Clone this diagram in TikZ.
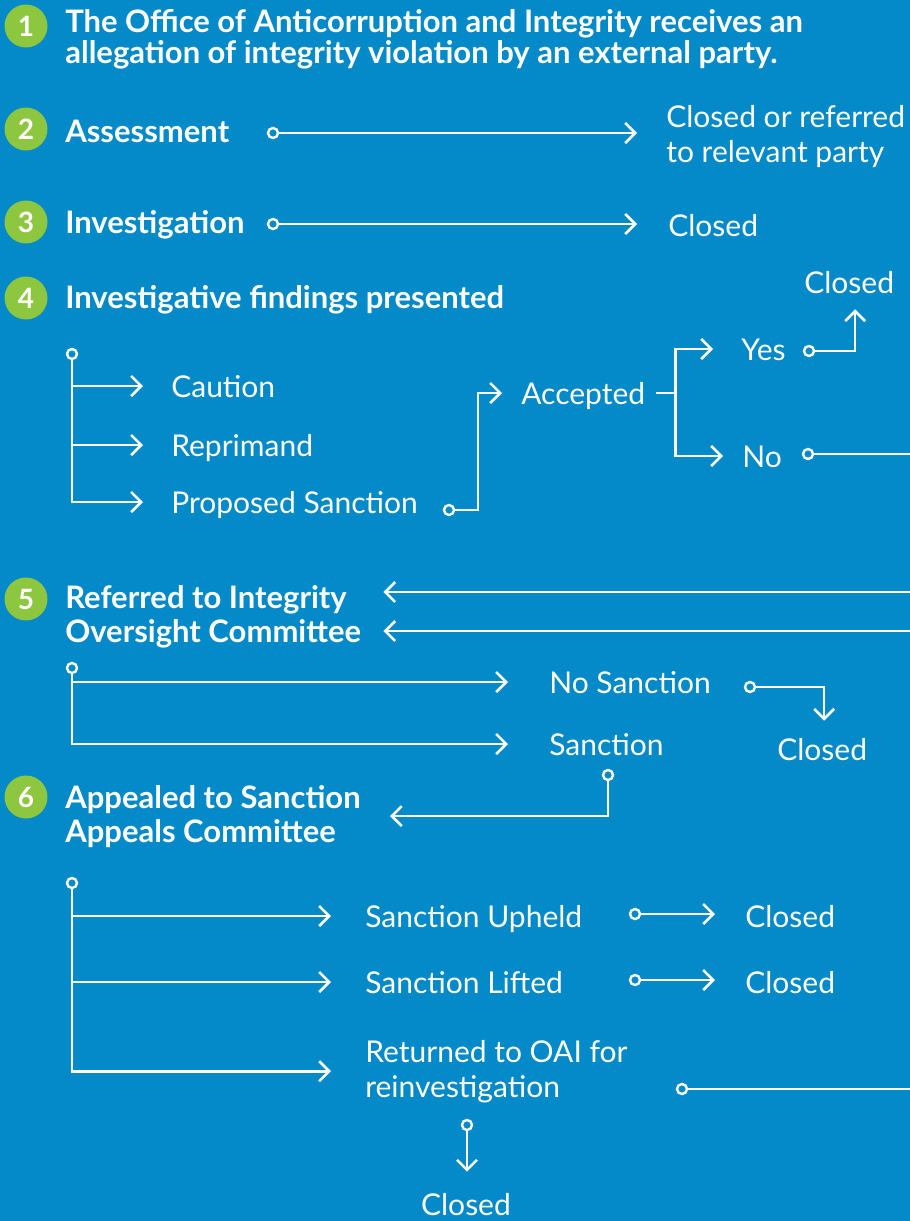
\documentclass[tikz,border=0pt]{standalone}
\usepackage{fontspec}
\setmainfont{Lato}
\usetikzlibrary{arrows.meta, calc}
\definecolor{oaiblue}{HTML}{0489C9}
\definecolor{oaigreen}{HTML}{8DC63F}
\tikzset{
  num/.style = {circle, fill=oaigreen, minimum size=43pt, inner sep=0pt, text=white,
    font=\fontsize{28}{28}\selectfont\bfseries},
  head/.style = {anchor=base west, inner sep=0pt, align=left, text=white,
    font=\fontsize{31}{34}\selectfont\bfseries},
  item/.style = {anchor=base west, inner sep=0pt, text=white,
    font=\fontsize{30}{35}\selectfont},
  lbl/.style = {item, text height=22pt, text depth=0pt},
  lbltwo/.style = {item, align=left},
  dot/.style = {circle, draw=white, fill=oaiblue, line width=2.4pt, minimum size=10pt, inner sep=0pt},
  arr/.style = {-{Straight Barb[length=10pt, width=20pt]}},
}

\begin{document}
\begin{tikzpicture}[x=1pt, y=-1pt, line width=2.6pt, white]
\fill[oaiblue] (0,0) rectangle (910,1221);
\useasboundingbox (0,0) rectangle (910,1221);
\coordinate (rim) at (910,0);

% numbered steps (multi-line texts sit on their last baseline)
\foreach \n/\y in {1/26, 2/129, 3/222, 4/298, 5/599, 6/797}
  \node[num] (n\n) at (26,\y) {\n};

\node[head, font=\fontsize{31}{31}\selectfont\bfseries] (h1) at (64,63)
  {The Office of Anticorruption and Integrity receives an\\allegation of integrity violation by an external party.};
\node[head] (h2) at (64,142) {Assessment};
\node[head] (h3) at (64,233) {Investigation};
\node[head] (h4) at (64,308) {Investigative findings presented};
\node[head] (h5) at (64,642) {Referred to Integrity\\Oversight Committee};
\node[head] (h6) at (64,842) {Appealed to Sanction\\Appeals Committee};

% steps 2 and 3
\node[lbltwo] (clref) at (665,162) {Closed or referred\\to relevant party};
\node[lbl] (cl3) at (667,236) {Closed};
\node[dot] (d2) at (273,133) {};
\node[dot] (d3) at (273,224) {};
\draw[arr, shorten >=30pt] (d2) -- (d2 -| cl3.west);
\draw[arr, shorten >=30pt] (d3) -- (d3 -| cl3.west);

% step 4
\node[lbl] (caution) at (170,397) {Caution};
\node[lbl] (reprim) at (170,456) {Reprimand};
\node[lbl] (propsan) at (170,513) {Proposed Sanction};
\node[dot] (d4) at (72,354) {};
\draw[arr, shorten >=27pt] (d4) |- (propsan.west);
\foreach \t in {caution, reprim}
  \draw[arr, shorten >=27pt] (d4 |- \t.west) -- (\t.west);

\node[lbl] (accept) at (520,404) {Accepted};
\node[dot] (dprop) at (449,510) {};
\draw[arr, shorten >=18pt] (dprop) -- ++(29,0) |- (accept.west);

\node[lbl] (yes) at (740,360) {Yes};
\node[lbl] (no) at (741,467) {No};
\coordinate (fork) at ([xshift=29pt]accept.east);
\draw ([xshift=10pt]accept.east) -- (fork);
\draw[arr, shorten >=27pt] (fork) |- (yes.west);
\draw[arr, shorten >=18pt] (fork) |- (no.west);

\node[lbl] (cl4) at (803,293) {Closed};
\node[dot] (dyes) at (809,351) {};
\draw[arr, shorten >=15pt] (dyes) -| ([xshift=6pt]cl4.south);
\node[dot] (dno) at (808,454) {};
\draw (dno) -- (dno -| rim);

% step 5
\coordinate (tip5) at ([xshift=21pt]h5.east);
\coordinate (in5a) at (910,592);
\coordinate (in5b) at (910,631);
\draw[arr] (in5a) -- (in5a -| tip5);
\draw[arr] (in5b) -- (in5b -| tip5);

\node[lbl] (nosan) at (548,693) {No Sanction};
\node[lbl] (san) at (548,755) {Sanction};
\node[dot] (d5) at (72,668) {};
\draw[arr, shorten >=40pt] (d5) |- (san.west);
\draw[arr, shorten >=40pt] (d5 |- nosan.west) -- (nosan.west);

\node[lbl] (cl5) at (776,760) {Closed};
\node[dot] (dnosan) at (750,687) {};
\draw[arr] (dnosan) -| ([xshift=2pt, yshift=16pt]cl5.north);
\node[dot] (dsan) at (608,775) {};
\draw[arr] (dsan) |- ([xshift=28pt]h6.east);

% step 6
\node[lbl] (uph) at (364,927) {Sanction Upheld};
\node[lbl] (lift) at (364,993) {Sanction Lifted};
\node[lbltwo] (ret) at (364,1097) {Returned to OAI for\\reinvestigation};
\node[dot] (d6) at (72,883) {};
\draw[arr, shorten >=33pt] (d6) |- (ret.west);
\foreach \t in {uph, lift}
  \draw[arr, shorten >=33pt] (d6 |- \t.west) -- (\t.west);

\node[lbl] (cl6a) at (744,927) {Closed};
\node[lbl] (cl6b) at (744,993) {Closed};
\node[dot] (du) at (635,914) {};
\node[dot] (dl) at (635,980) {};
\draw[arr, shorten >=29pt] (du) -- (du -| cl6a.west);
\draw[arr, shorten >=29pt] (dl) -- (dl -| cl6b.west);

\node[dot] (dret) at (682,1089) {};
\draw (dret) -- (dret -| rim);
\node[lbl, anchor=base] (cl7) at (466,1215) {Closed};
\node[dot] (dback) at (467,1125) {};
\draw[arr, shorten >=20pt] (dback) -- (dback |- cl7.north);
\end{tikzpicture}
\end{document}
